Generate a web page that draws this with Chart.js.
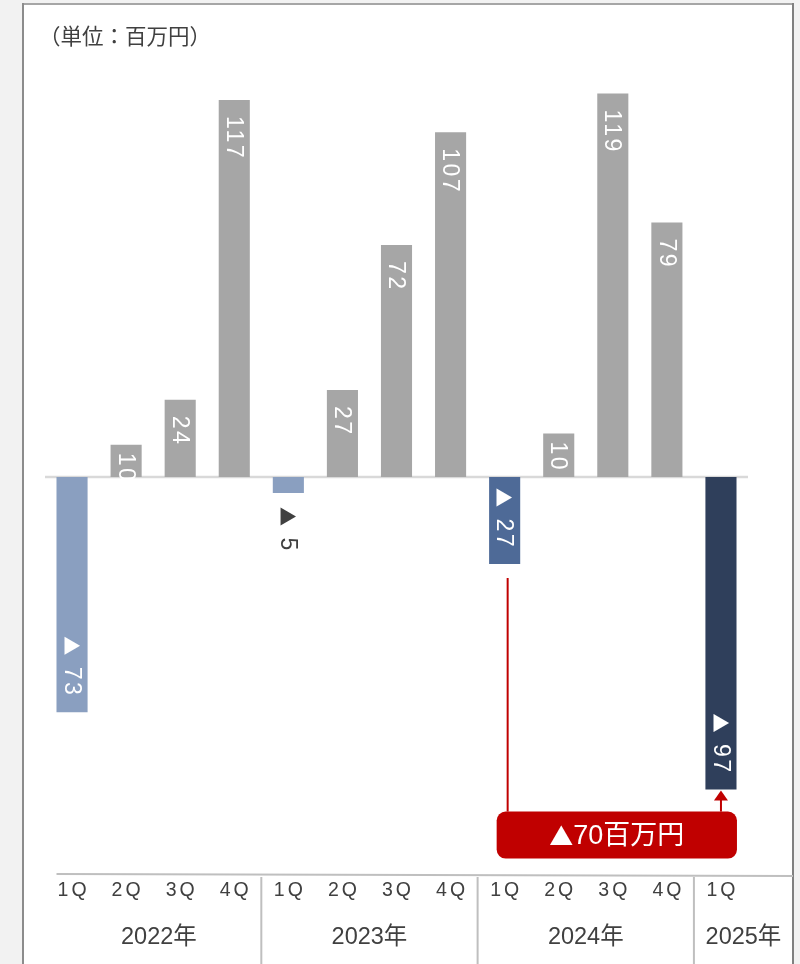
<!DOCTYPE html>
<html><head><meta charset="utf-8">
<script src="https://cdn.jsdelivr.net/npm/chart.js@4.4.1/dist/chart.umd.min.js"></script>
<style>html,body{margin:0;padding:0;background:#f2f2f2;overflow:hidden}#wrap{position:relative;width:800px;height:964px;}</style>
</head><body><div id="wrap"><canvas id="c"></canvas></div>
<script>
// ---- data ----
const quarters = ['1Q','2Q','3Q','4Q','1Q','2Q','3Q','4Q','1Q','2Q','3Q','4Q','1Q'];
const years = ['2022年','2023年','2024年','2025年'];
const yearIndex = [0,0,0,0,1,1,1,1,2,2,2,2,3];
const values = [-73,10,24,117,-5,27,72,107,-27,13.5,119,79,-97];
const valueLabels = ['▲ 73','10','24','117','▲ 5','27','72','107','▲ 27','10','119','79','▲ 97'];
const unitLabel = '（単位：百万円）';
const calloutText = '▲70百万円';
const calloutFrom = 8, calloutTo = 12;

// ---- style ----
const barColors = ['#8a9fc0','#a6a6a6','#a6a6a6','#a6a6a6','#8a9fc0','#a6a6a6','#a6a6a6','#a6a6a6','#4e6a97','#a6a6a6','#a6a6a6','#a6a6a6','#2f3f5b'];
const TXT = '#404040';
const LAT = '"Liberation Sans", Arial, "Noto Sans CJK JP", sans-serif';
const CJK = '"Liberation Sans", "Noto Sans CJK JP", sans-serif';
const TRI = '"Noto Sans CJK JP", sans-serif';

function drawMixed(c, text, x, y, align, size, spacing, triSize) {
  let tri = '', rest = text;
  if (text.startsWith('▲')) { tri = '▲'; rest = text.slice(1); }
  c.letterSpacing = spacing + 'px';
  c.font = triSize + 'px ' + TRI; const wT = tri ? c.measureText(tri).width : 0;
  c.font = size + 'px ' + CJK; const wR = c.measureText(rest).width;
  const total = wT + wR;
  let sx = align === 'left' ? x : align === 'right' ? x - total : x - total/2;
  c.textAlign = 'left';
  if (tri) { c.font = triSize + 'px ' + TRI; c.fillText(tri, sx, y); }
  c.font = size + 'px ' + CJK; c.fillText(rest, sx + wT, y);
  c.letterSpacing = '0px';
}

const frame = {
  id:'frame',
  beforeDraw(ch){
    const c = ch.ctx; c.save();
    c.fillStyle = '#f2f2f2'; c.fillRect(0,0,ch.width,ch.height);
    c.fillStyle = '#ffffff'; c.fillRect(22,3,771,ch.height);
    c.lineWidth = 2;
    c.strokeStyle = '#a6a6a6'; c.beginPath(); c.moveTo(22,4); c.lineTo(794,4); c.stroke();
    c.strokeStyle = '#8c8c8c'; c.beginPath(); c.moveTo(23,3); c.lineTo(23,ch.height); c.stroke();
    c.strokeStyle = '#808080'; c.beginPath(); c.moveTo(793,3); c.lineTo(793,ch.height); c.stroke();
    c.fillStyle = TXT; c.font = '21.5px "Noto Sans CJK JP", sans-serif';
    c.textBaseline = 'middle'; c.textAlign = 'left';
    c.fillText(unitLabel, 39, 36);
    c.restore();
  },
  beforeDatasetsDraw(ch){
    const c = ch.ctx, a = ch.chartArea, y0 = ch.scales.y.getPixelForValue(0);
    c.save(); c.strokeStyle = '#d9d9d9'; c.lineWidth = 2.5;
    c.beginPath(); c.moveTo(a.left, y0); c.lineTo(a.right, y0); c.stroke(); c.restore();
  },
  afterDatasetsDraw(ch){
    const c = ch.ctx, bars = ch.getDatasetMeta(0).data;
    c.save();
    c.textBaseline = 'middle';
    bars.forEach((b,i)=>{
      const len = Math.abs(b.base - b.y);
      c.save();
      let py, align, col = '#ffffff';
      if (values[i] >= 0) { py = b.y + (len < 50 ? 8 : 16); align = 'left'; }
      else if (len < 22) { py = b.y + 14; align = 'left'; col = TXT; }
      else { py = b.y - 15; align = 'right'; }
      c.translate(b.x, py); c.rotate(Math.PI/2);
      c.fillStyle = col;
      drawMixed(c, valueLabels[i], 0, 1, align, 23, 2.5, 19);
      c.restore();
    });
    const bf = bars[calloutFrom], bt = bars[calloutTo];
    const boxL = bf.x - 8, boxR = bt.x + 16, boxT = bt.y + 22, boxH = 47;
    c.strokeStyle = '#c00000'; c.fillStyle = '#c00000'; c.lineWidth = 2;
    c.beginPath(); c.moveTo(bf.x + 3, bf.y + 14); c.lineTo(bf.x + 3, boxT); c.stroke();
    c.beginPath(); c.moveTo(bt.x, boxT); c.lineTo(bt.x, bt.y + 8); c.stroke();
    c.beginPath(); c.moveTo(bt.x, bt.y + 1); c.lineTo(bt.x - 7, bt.y + 11); c.lineTo(bt.x + 7, bt.y + 11); c.closePath(); c.fill();
    c.beginPath(); c.roundRect(boxL, boxT, boxR - boxL, boxH, 9); c.fill();
    c.fillStyle = '#ffffff'; c.textBaseline = 'middle';
    drawMixed(c, calloutText, (boxL + boxR)/2, boxT + boxH/2 + 1, 'center', 27, 0, 24);
    const axY = 874;
    c.strokeStyle = '#bfbfbf'; c.lineWidth = 2;
    c.beginPath(); c.moveTo(bars[0].x - bars[0].width/2, axY); c.lineTo(793, axY + 2); c.stroke();
    c.fillStyle = TXT; c.font = '19.5px ' + LAT; c.letterSpacing = '3px'; c.textAlign = 'center';
    bars.forEach((b,i)=>{ c.fillText(quarters[i], b.x + 1.5, 891); });
    c.letterSpacing = '0px';
    const bounds = [bars[0].x - bars[0].width/2];
    for (let i = 1; i < bars.length; i++) {
      if (yearIndex[i] !== yearIndex[i-1]) {
        const sx = (bars[i].x + bars[i-1].x)/2;
        bounds.push(sx);
        c.beginPath(); c.moveTo(sx, axY + 3); c.lineTo(sx, ch.height); c.stroke();
      }
    }
    bounds.push(793);
    c.font = '23.5px ' + CJK;
    years.forEach((y,k)=>{ c.fillText(y, (bounds[k] + bounds[k+1])/2, 938); });
    c.restore();
  }
};

new Chart(document.getElementById('c'), {
  type: 'bar',
  data: { labels: quarters.map((q,i)=>q + ' ' + years[yearIndex[i]]),
    datasets: [{ data: values, backgroundColor: barColors, borderWidth: 0,
      categoryPercentage: 0.575, barPercentage: 1 }] },
  options: {
    responsive: true, maintainAspectRatio: false, animation: false,
    layout: { padding: { left: 45, right: 52, top: 58.1, bottom: 100.3 } },
    plugins: { legend: { display: false }, tooltip: { enabled: false } },
    scales: {
      x: { display: false },
      y: { display: false, min: -120, max: 130 }
    }
  },
  plugins: [frame]
});
</script></body></html>
